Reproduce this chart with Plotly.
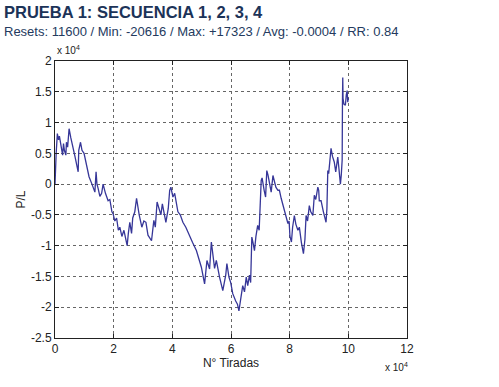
import plotly.graph_objects as go

# Data (x: number of throws, y: P/L)
tiradas = [0, 100, 300, 400, 800, 1200, 1500, 2000, 2600, 2900, 3200, 3700, 3900, 4300, 4500, 4800,
           5400, 6200, 6800, 7900, 8100, 8700, 9200, 9900, 10800, 11600, 12600, 13600, 14000, 14300,
           14700, 15300, 15900, 16400, 17200, 18100, 18700, 19400, 19800, 20400, 21000, 21600, 22100,
           22800, 23500, 24600, 25000, 25500, 26100, 26500, 27200, 27800, 28700, 29600, 30300, 31000,
           31700, 32900, 33700, 34200, 34800, 35500, 36100, 36600, 37200, 37800, 38600, 39100, 39500,
           40200, 40800, 41900, 42700, 43600, 44600, 45900, 46900, 48200, 49000, 49900, 50500, 51000,
           51800, 52700, 53300, 53800, 54400, 55000, 55500, 56100, 57200, 58200, 58600, 59300, 59900,
           60600, 61600, 62200, 62700, 63500, 64000, 64600, 65200, 65700, 66300, 66700, 67100, 67500,
           68000, 68500, 69100, 69600, 69900, 70300, 70600, 70900, 71300, 71800, 72200, 72600, 73100,
           73700, 74300, 74800, 75300, 76000, 76500, 77100, 77700, 78200, 78900, 79400, 79800, 80100,
           80600, 81000, 81600, 82100, 82800, 83300, 84000, 84700, 85200, 85600, 86100, 86700, 87200,
           87900, 88400, 88900, 89600, 89900, 90100, 90700, 91500, 92400, 92700, 93000, 93300, 93700,
           94100, 94600, 95200, 95700, 96400, 96800, 97300, 97600, 97900, 98000, 98100, 98200, 98500,
           99000, 99300, 99600, 99800, 100000]
pl = [0, 2200, 1500, 5000, 8200, 7200, 7800, 6000, 4700, 6600, 5500, 4700, 6800, 6000, 6800, 9000,
      7500, 6000, 4500, 2000, 5500, 6800, 5500, 5000, 2800, 1200, 0, -1300, 2000, 0,
      -700, -2000, -1500, 0, -1500, -2700, -2500, -4500, -4800, -6000, -5500, -7500, -7000,
      -8500, -7500, -10000, -8000, -6200, -8000, -5500, -4500, -2300, -5000, -7000, -6000, -6200,
      -8300, -9200, -5900, -7000, -2900, -4000, -5000, -3200, -5000, -6200, -4000, -1000, -500,
      -2100, -1500, -4500, -5000, -6200, -7000, -8600, -9500, -10800, -12000, -13500, -15000, -16200,
      -12400, -13800, -9400, -11300, -13700, -12400, -14000, -15100, -17300, -14800, -12900, -15100, -16000,
      -17800, -19000, -19500, -20600, -18400, -16500, -17500, -15100, -16500, -14800, -16000, -8600, -9500,
      -10800, -8500, -6700, -7500, -3000, 600, 1000, 0, -1000, -2100, 2200, 1500, 0,
      -1300, 1400, 300, -500, -1000, -1000, -2300, -3500, -4500, -5500, -6400, -6000, -8500,
      -9400, -7000, -5100, -6500, -7500, -7000, -9500, -11300, -9000, -5100, -6000, -3500, -4500,
      -5100, -1800, -2500, -500, -1000, -2700, -2700, -4500, -6200, -4000, 2200, 1700, 4000,
      5800, 4500, 3600, 2000, 4400, 2500, 0, 1500, 3900, 13600, 17300, 13900, 13000,
      12800, 14500, 15200, 13300, 14000]

x_ticks = [0, 2, 4, 6, 8, 10, 12]
y_ticks = [-2.5, -2, -1.5, -1, -0.5, 0, 0.5, 1, 1.5, 2]
y_tick_labels = ["-2.5", "-2", "-1.5", "-1", "-0.5", "0", "0.5", "1", "1.5", "2"]

title = "PRUEBA 1: SECUENCIA 1, 2, 3, 4"
subtitle = "Resets: 11600 / Min: -20616 / Max: +17323 / Avg: -0.0004 / RR: 0.84"

FONT = "Liberation Sans, Arial, sans-serif"

fig = go.Figure()
fig.add_trace(go.Scatter(
    x=[v / 1e4 for v in tiradas],
    y=[v / 1e4 for v in pl],
    mode="lines",
    line=dict(color="#363698", width=1.3),
    showlegend=False,
))

axis_common = dict(
    showline=True, linecolor="#222", linewidth=1, mirror="ticks",
    ticks="inside", ticklen=4, tickcolor="#222",
    showgrid=True, gridcolor="#666", griddash="dot", gridwidth=1,
    zeroline=False,
    tickfont=dict(family=FONT, size=12, color="#222"),
)

fig.update_xaxes(range=[0, 12], tickvals=x_ticks, ticktext=[str(t) for t in x_ticks],
                 title=dict(text="N° Tiradas", font=dict(family=FONT, size=12, color="#222"), standoff=1),
                 **axis_common)
fig.update_yaxes(range=[-2.5, 2], tickvals=y_ticks, ticktext=y_tick_labels,
                 title=dict(text="P/L", font=dict(family=FONT, size=12, color="#222"), standoff=2),
                 **axis_common)

fig.update_layout(
    width=499, height=387,
    margin=dict(l=55, r=91.5, t=60.7, b=49.3),
    paper_bgcolor="white", plot_bgcolor="white",
    annotations=[
        dict(text="<b>" + title + "</b>", xref="paper", yref="paper", x=-0.150, y=1.176,
             xanchor="left", yanchor="middle", showarrow=False,
             font=dict(family=FONT, size=16.5, color="#1c3358")),
        dict(text=subtitle, xref="paper", yref="paper", x=-0.150, y=1.107,
             xanchor="left", yanchor="middle", showarrow=False,
             font=dict(family=FONT, size=13, color="#243a5e")),
        dict(text="x 10<sup>4</sup>", xref="paper", yref="paper", x=0.0, y=1.039,
             xanchor="left", yanchor="middle", showarrow=False,
             font=dict(family=FONT, size=10, color="#222")),
        dict(text="x 10<sup>4</sup>", xref="paper", yref="paper", x=0.931, y=-0.105,
             xanchor="left", yanchor="middle", showarrow=False,
             font=dict(family=FONT, size=10, color="#222")),
    ],
)

fig.write_html("out.html", config={"displayModeBar": False},
               post_script="document.body.style.margin='0';")
